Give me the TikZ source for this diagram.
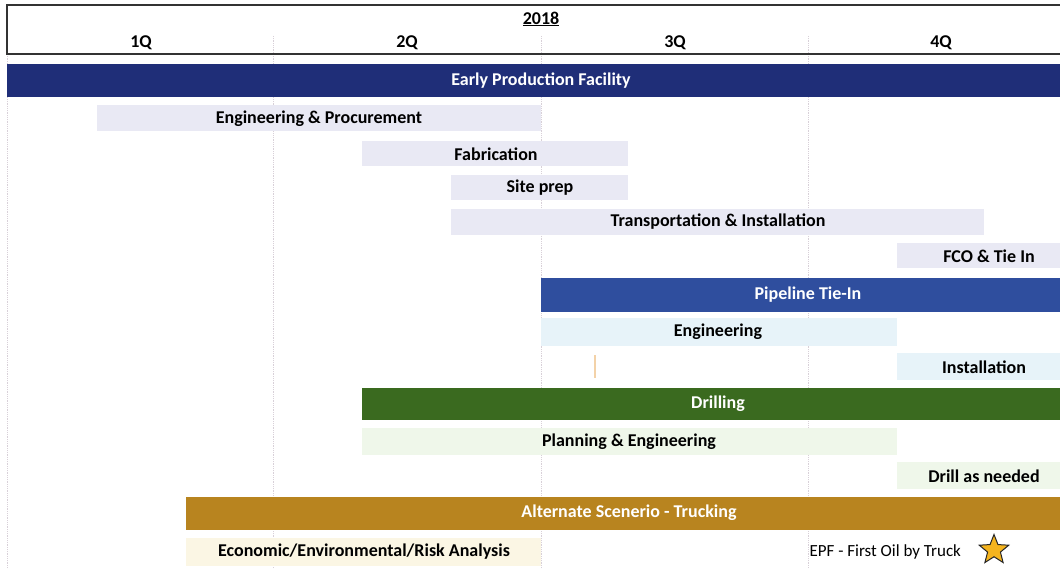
\documentclass[tikz,border=0pt]{standalone}
\usepackage{fontspec}
\setmainfont{Carlito}
\usetikzlibrary{shapes.geometric}
\definecolor{epfblue}{HTML}{1F2E78}
\definecolor{pipeblue}{HTML}{2F4E9E}
\definecolor{drillgreen}{HTML}{3A6A1F}
\definecolor{truckgold}{HTML}{B8841F}
\definecolor{lavender}{HTML}{E9E9F4}
\definecolor{iceblue}{HTML}{E7F3F9}
\definecolor{mintgreen}{HTML}{EFF7EA}
\definecolor{cream}{HTML}{FBF6E4}
\definecolor{gridgray}{HTML}{D8D0D8}
\definecolor{stargold}{HTML}{F5B41E}
\definecolor{paleorange}{HTML}{F3D2A8}
\begin{document}
\begin{tikzpicture}[x=1pt,y=-1pt,
    txt/.style={font=\fontsize{18}{21}\selectfont\bfseries},
    hdr/.style={txt,text=white},
    grid/.style={gridgray,densely dotted,line width=0.8pt}]
    \useasboundingbox (0,0) rectangle (1060,569) ;
    % quarter lines
    \draw[grid] (7,54) -- (7,569) ;
    \draw[grid] (273,36) -- (273,569) ;
    \draw[grid] (541,36) -- (541,569) ;
    \draw[grid] (808,36) -- (808,569) ;
    % header
    \draw[line width=1.3pt,black!80] (1061,5) -- (7,5) -- (7,54) -- (1061,54) ;
    \node[txt] (year) at (541,19) {\underline{2018}} ;
    \node[txt] (q1) at (141,43) {1Q} ;
    \node[txt] (q2) at (407,43) {2Q} ;
    \node[txt] (q3) at (675,43) {3Q} ;
    \node[txt] (q4) at (941,43) {4Q} ;
    % early production facility
    \fill[epfblue] (7,64) rectangle (1060,97) ;
    \node[hdr] (epf) at (541,81) {Early Production Facility} ;
    \fill[lavender] (97,105) rectangle (541,131) ;
    \node[txt] (engproc) at (319,119) {Engineering \& Procurement} ;
    \fill[lavender] (362,141) rectangle (628,166) ;
    \node[txt] (fab) at (496,154) {Fabrication} ;
    \fill[lavender] (451,175) rectangle (628,200) ;
    \node[txt] (site) at (540,188) {Site prep} ;
    \fill[lavender] (451,209) rectangle (984,235) ;
    \node[txt] (transp) at (718,222) {Transportation \& Installation} ;
    \fill[lavender] (897,243) rectangle (1060,268) ;
    \node[txt] (fco) at (989,256) {FCO \& Tie In} ;
    % pipeline
    \fill[pipeblue] (541,278) rectangle (1060,312) ;
    \node[hdr] (pipe) at (808,295) {Pipeline Tie-In} ;
    \fill[iceblue] (541,318) rectangle (897,346) ;
    \node[txt] (pipeeng) at (718,332) {Engineering} ;
    \fill[iceblue] (897,353) rectangle (1060,380) ;
    \node[txt] (inst) at (984,367) {Installation} ;
    \draw[paleorange,line width=1.2pt] (595,355) -- (595,378) ;
    % drilling
    \fill[drillgreen] (362,388) rectangle (1060,420) ;
    \node[hdr] (drill) at (718,404) {Drilling} ;
    \fill[mintgreen] (362,428) rectangle (897,455) ;
    \node[txt] (plan) at (629,442) {Planning \& Engineering} ;
    \fill[mintgreen] (897,462) rectangle (1060,489) ;
    \node[txt] (asneed) at (984,476) {Drill as needed} ;
    % trucking
    \fill[truckgold] (186,497) rectangle (1060,530) ;
    \node[hdr] (truck) at (629,513) {Alternate Scenerio - Trucking} ;
    \fill[cream] (186,538) rectangle (541,566) ;
    \node[txt] (econ) at (364,552) {Economic/Environmental/Risk Analysis} ;
    \node[font=\fontsize{17}{20}\selectfont,anchor=west] (oil) at (806,552) {EPF - First Oil by Truck} ;
    \node[star,star points=5,star point ratio=2.3,minimum size=31pt,inner sep=0pt,
          fill=stargold,draw=black!85,line width=1pt] (firstoil) at (994,550) {} ;
\end{tikzpicture}
\end{document}
